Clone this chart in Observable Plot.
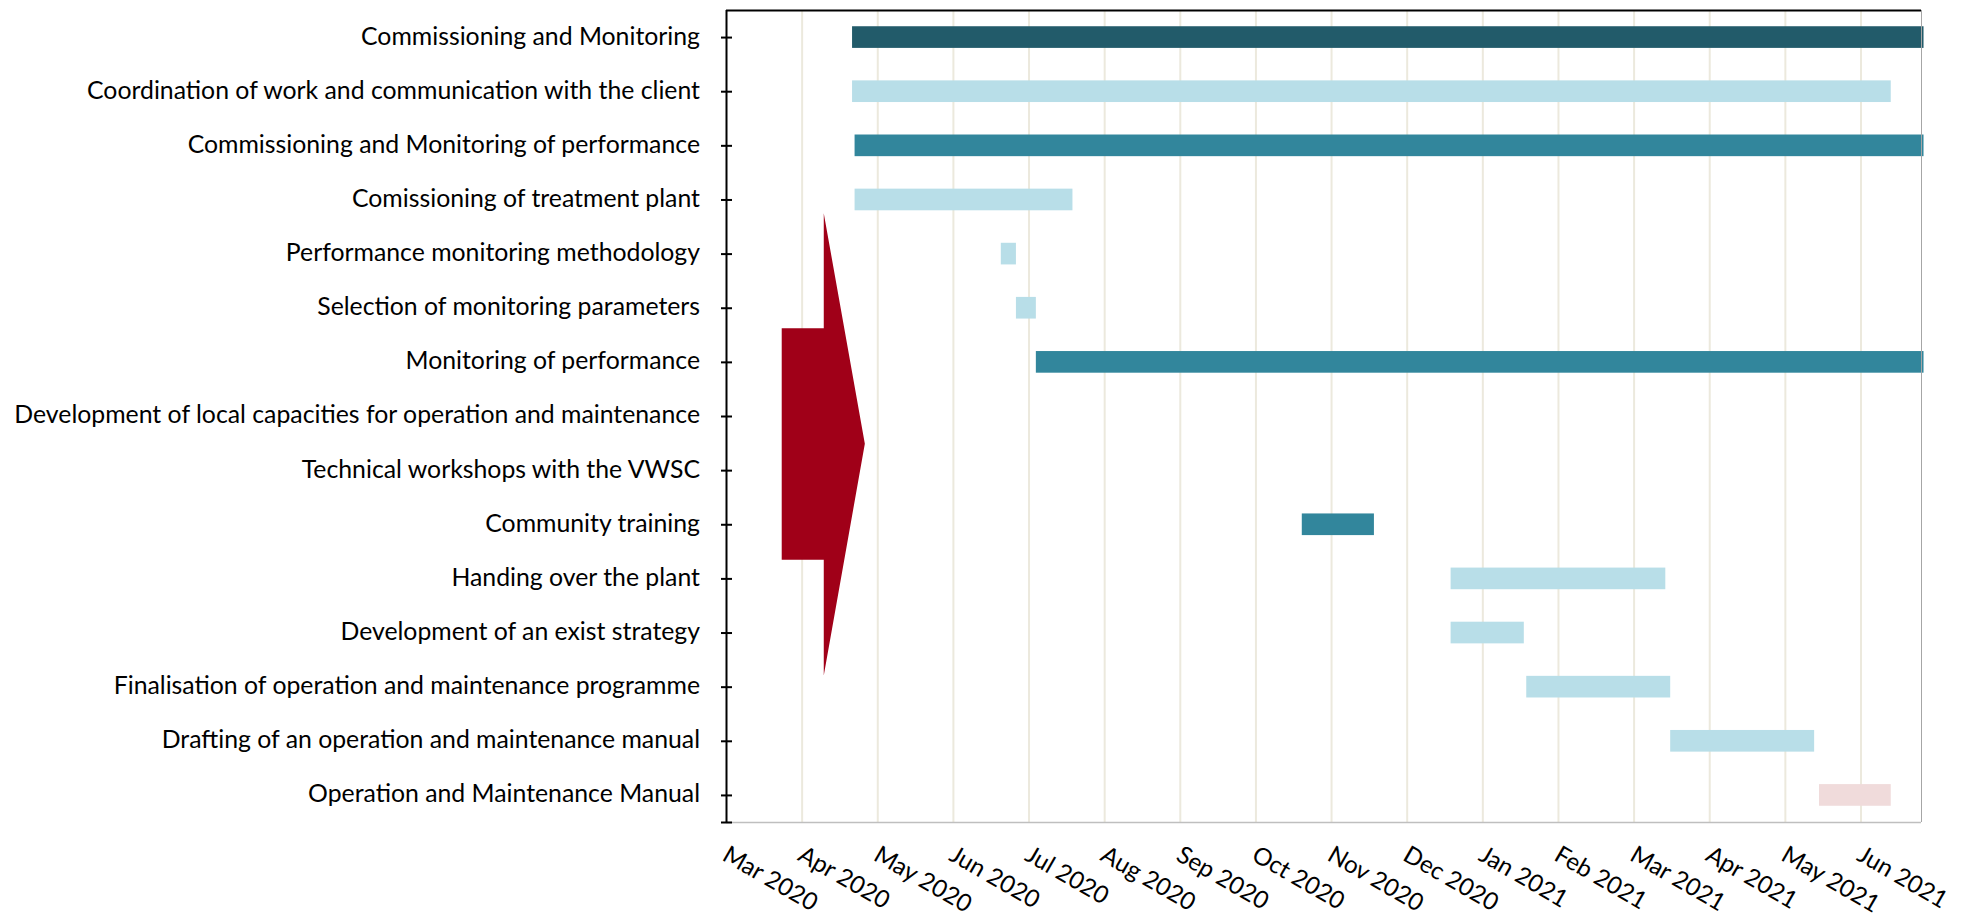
<!DOCTYPE html>
<html>
<head>
<meta charset="utf-8">
<script src="https://cdn.jsdelivr.net/npm/d3@7"></script>
<script src="https://cdn.jsdelivr.net/npm/@observablehq/plot@0.6"></script>
<style>
  html, body { margin: 0; padding: 0; background: #ffffff; }
  #chart { width: 1962px; height: 917px; }
</style>
</head>
<body>
<div id="chart"></div>
<script>
// ---- Data -------------------------------------------------------------
const tasks = [
  "Commissioning and Monitoring",
  "Coordination of work and communication with the client",
  "Commissioning and Monitoring of performance",
  "Comissioning of treatment plant",
  "Performance monitoring methodology",
  "Selection of monitoring parameters",
  "Monitoring of performance",
  "Development of local capacities for operation and maintenance",
  "Technical workshops with the VWSC",
  "Community training",
  "Handing over the plant",
  "Development of an exist strategy",
  "Finalisation of operation and maintenance programme",
  "Drafting of an operation and maintenance manual",
  "Operation and Maintenance Manual"
];
const taskStart = [
  "2020-04-21", "2020-04-21", "2020-04-22", "2020-04-22", "2020-06-20",
  "2020-06-26", "2020-07-04", null, null, "2020-10-20",
  "2020-12-19", "2020-12-19", "2021-01-19", "2021-03-16", "2021-05-15"
];
const taskEnd = [
  "2021-06-26", "2021-06-13", "2021-06-26", "2020-07-19", "2020-06-26",
  "2020-07-04", "2021-06-26", null, null, "2020-11-18",
  "2021-03-14", "2021-01-18", "2021-03-16", "2021-05-13", "2021-06-13"
];
const taskType = [
  "component", "activity", "phase", "activity", "activity",
  "activity", "phase", "phase", "activity", "phase",
  "activity", "activity", "activity", "activity", "deliverable"
];
const typeNames  = ["component", "phase", "activity", "deliverable"];
const typeColors = ["#225b6a", "#32869c", "#b8dee8", "#f0dbdb"];

const tickLabels = [
  "Mar 2020", "Apr 2020", "May 2020", "Jun 2020", "Jul 2020", "Aug 2020",
  "Sep 2020", "Oct 2020", "Nov 2020", "Dec 2020", "Jan 2021", "Feb 2021",
  "Mar 2021", "Apr 2021", "May 2021", "Jun 2021"
];
const axisStart = "2020-03-01";
const axisEnd = "2021-06-25";

// Arrow shape (x in months from Mar 2020, y in row units)
const arrowX = [1.286, 1.829, 1.286, 1.286, 0.730, 0.730, 1.286];
const arrowY = [3.244, 7.504, 11.784, 9.647, 9.647, 5.369, 5.369];

// ---- Helpers ----------------------------------------------------------
function monthPos(s) {
  const [y, m, d] = s.split("-").map(Number);
  const dim = new Date(Date.UTC(y, m, 0)).getUTCDate();
  return (y - 2020) * 12 + (m - 3) + (d - 1) / dim;
}

const bars = tasks.map((t, i) => ({
  task: t, row: i, type: taskType[i],
  x1: taskStart[i] ? monthPos(taskStart[i]) : null,
  x2: taskEnd[i] ? monthPos(taskEnd[i]) : null
})).filter(d => d.x1 != null);

const arrow = arrowX.map((x, i) => ({x, y: arrowY[i]}));
const rows = tasks.map((t, i) => i);
const tickRows = [...rows, tasks.length - 0.5];
const monthTicks = tickLabels.map((l, i) => i);

const hTick = {
  draw(ctx) { ctx.moveTo(-5.5, 0); ctx.lineTo(5.5, 0); }
};

const FONT = "Lato, 'Liberation Sans', sans-serif";
const FS = 24.8;
const FSX = 24.2;

const chart = Plot.plot({
  width: 1962,
  height: 917,
  marginLeft: 726,
  marginRight: 41,
  marginTop: 10,
  marginBottom: 95,
  style: { fontFamily: FONT, fontSize: FS + "px", background: "#ffffff", color: "#000" },
  x: { domain: [monthPos(axisStart), monthPos(axisEnd)], axis: null },
  y: { domain: [-0.5, tasks.length - 0.5], reverse: true, axis: null },
  color: { domain: typeNames, range: typeColors },
  marks: [
    // vertical gridlines
    Plot.ruleX(monthTicks.slice(1), { x: d => d, stroke: "#ece9dd", strokeWidth: 2 }),
    // bars
    Plot.rect(bars, {
      x1: "x1", x2: "x2",
      y1: d => d.row - 0.2, y2: d => d.row + 0.2,
      fill: "type"
    }),
    // red arrow shape
    Plot.line(arrow, { x: "x", y: "y", fill: "#a00018", stroke: "none" }),
    // frame lines
    Plot.ruleY([tasks.length - 0.5], { stroke: "#bfbfbf", strokeWidth: 1.5 }),
    Plot.ruleX([monthPos(axisEnd)], { stroke: "#a6a6a6", strokeWidth: 1 }),
    Plot.ruleY([-0.5], { stroke: "#000", strokeWidth: 2.2 }),
    Plot.ruleX([0], { stroke: "#000", strokeWidth: 2 }),
    // category ticks crossing the axis
    Plot.dot(tickRows, { y: d => d, frameAnchor: "left", symbol: hTick, stroke: "#000", strokeWidth: 2, fill: "none" }),
    // category labels
    Plot.text(tasks, {
      y: (d, i) => i, frameAnchor: "left", text: d => d,
      textAnchor: "end", dx: -26.5, dy: -1, fill: "#000", fontSize: FS
    }),
    // month labels
    Plot.text(tickLabels, {
      x: (d, i) => i, frameAnchor: "bottom", text: d => d,
      rotate: 30, textAnchor: "start", lineAnchor: "top",
      dx: 3, dy: 22, fill: "#000", fontSize: FSX
    })
  ]
});

document.getElementById("chart").appendChild(chart);
</script>
</body>
</html>
